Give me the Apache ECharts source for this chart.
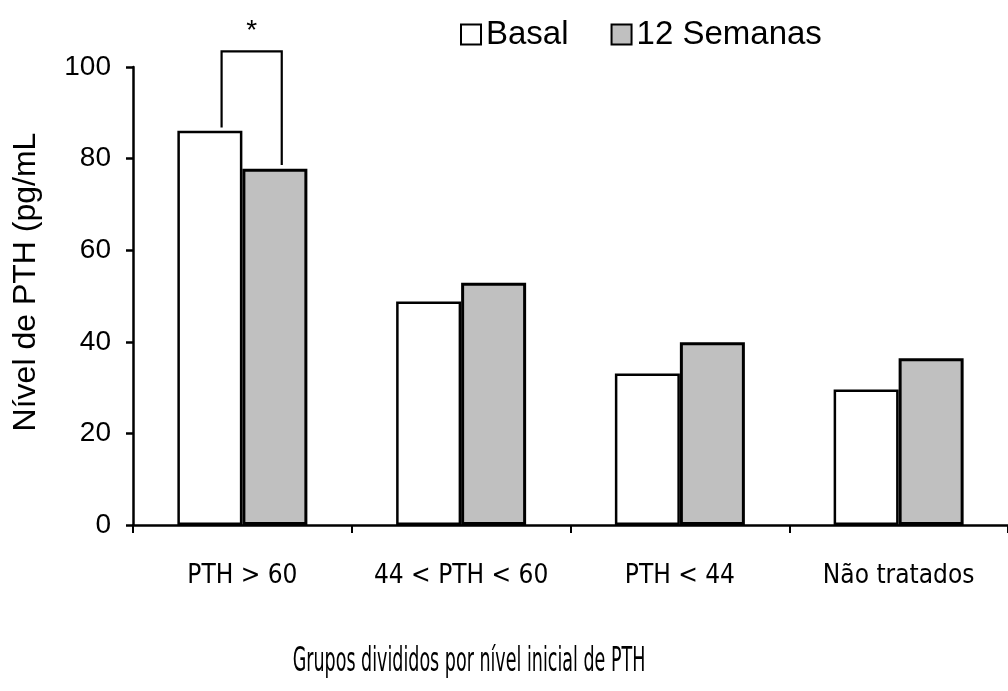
<!DOCTYPE html>
<html>
<head>
<meta charset="utf-8">
<script src="https://cdn.jsdelivr.net/npm/echarts@6/dist/echarts.min.js"></script>
<style>html,body{margin:0;padding:0;background:#fff}#c{width:1008px;height:691px}</style>
</head>
<body>
<div id="c"></div>
<script>
const categories = ['PTH > 60', '44 < PTH < 60', 'PTH < 44', 'Não tratados'];
const basal = [86.1, 48.8, 33.1, 29.6];
const semanas12 = [77.8, 52.9, 39.9, 36.4];
const yTicks = [0, 20, 40, 60, 80, 100];
// significance bracket: [category index, top value, left leg bottom, right leg bottom]
const bracket = [[0, 103.4, 86.8, 78.6]];
const seriesNames = ['Basal', '12 Semanas'];
const xTitle = 'Grupos divididos por nível inicial de PTH';
const yTitle = 'Nível de PTH (pg/mL';

const narrow = '"Liberation Sans Narrow", "Arial Narrow", "DejaVu Sans Condensed", sans-serif';
const sans = '"Liberation Sans", Arial, sans-serif';

const chart = echarts.init(document.getElementById('c'), null, {renderer: 'canvas'});
chart.setOption({
  animation: false,
  backgroundColor: '#fff',
  legend: {
    left: 455, top: 13,
    icon: 'rect',
    itemWidth: 20, itemHeight: 20, itemGap: 42,
    textStyle: {fontFamily: sans, fontSize: 33, color: '#000'},
    data: seriesNames
  },
  grid: {left: 133, top: 67, width: 884, height: 458, containLabel: false},
  xAxis: {
    type: 'category',
    data: categories,
    axisLine: {lineStyle: {color: '#000', width: 2.5}},
    axisTick: {show: true, interval: 0, length: 8, lineStyle: {color: '#000', width: 2}},
    axisLabel: {interval: 0, hideOverlap: false, fontFamily: narrow, fontSize: 26, color: '#000', margin: 38}
  },
  yAxis: {
    type: 'value',
    min: 0, max: 100, interval: 20,
    splitLine: {show: false},
    axisLine: {show: true, lineStyle: {color: '#000', width: 2.5}},
    axisTick: {show: true, length: 7, lineStyle: {color: '#000', width: 2.5}},
    axisLabel: {fontFamily: sans, fontSize: 28, color: '#000', margin: 22,
      formatter: v => yTicks.includes(v) ? String(v) : ''},
    name: yTitle,
    nameLocation: 'middle',
    nameGap: 91,
    nameRotate: 90,
    nameTextStyle: {fontFamily: sans, fontSize: 32, color: '#000', padding: [0, 0, 0, 28]}
  },
  graphic: [{
    type: 'text',
    x: 469, y: 662,
    scaleX: 0.59,
    style: {text: xTitle, font: '33px "DejaVu Sans Condensed", sans-serif', fill: '#000',
      align: 'center', verticalAlign: 'middle'}
  }],
  series: [
    {
      name: seriesNames[0], type: 'bar', data: basal,
      barWidth: 65, barGap: '0%',
      itemStyle: {color: '#ffffff', borderColor: '#000', borderWidth: 2.5}
    },
    {
      name: seriesNames[1], type: 'bar', data: semanas12,
      barWidth: 65,
      itemStyle: {color: '#c0c0c0', borderColor: '#000', borderWidth: 3}
    },
    {
      type: 'custom',
      clip: false,
      silent: true,
      data: bracket,
      encode: {x: 0, y: 1},
      renderItem: function (params, api) {
        const c = api.value(0);
        const band = api.size([1, 0])[0];
        const top = api.coord([c, api.value(1)]);
        const lb = api.coord([c, api.value(2)]);
        const rb = api.coord([c, api.value(3)]);
        const xl = top[0] - band * 0.095;
        const xr = top[0] + band * 0.18;
        return {
          type: 'group',
          children: [
            {type: 'polyline', shape: {points: [[xl, lb[1]], [xl, top[1]], [xr, top[1]], [xr, rb[1]]]},
              style: {stroke: '#000', lineWidth: 2.2, fill: null}},
            {type: 'text', style: {text: '*', x: (xl + xr) / 2, y: top[1] - 20, align: 'center', verticalAlign: 'middle',
              font: '28px "Liberation Sans", Arial, sans-serif', fill: '#000'}}
          ]
        };
      }
    }
  ]
});
</script>
</body>
</html>
